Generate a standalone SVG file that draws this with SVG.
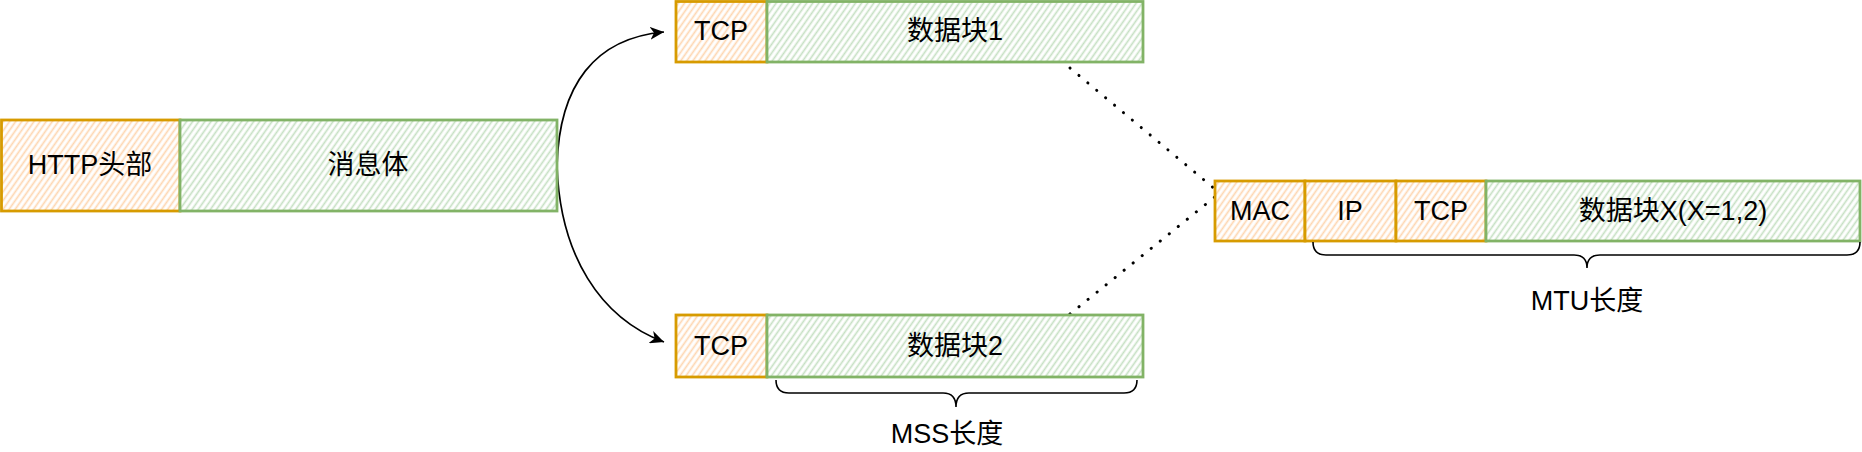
<svg xmlns="http://www.w3.org/2000/svg" width="1862" height="452" viewBox="0 0 1862 452">
<style>
text{font-family:"Liberation Sans","Noto Sans CJK SC",sans-serif;font-size:27px;fill:#000;text-anchor:middle;dominant-baseline:central}
.org{fill:url(#hatchO);stroke:#d79b00;stroke-width:2.8}
.grn{fill:url(#hatchG);stroke:#82b366;stroke-width:2.8}
.conn{fill:none;stroke:#000;stroke-width:1.7}
.dot{fill:none;stroke:#000;stroke-width:3;stroke-linecap:round;stroke-dasharray:0.1 11.5}
.brace{fill:none;stroke:#000;stroke-width:1.6}
</style>
<defs>
<pattern id="hatchO" patternUnits="userSpaceOnUse" width="5" height="5" patternTransform="rotate(35)">
<rect width="5" height="5" fill="#fff"/>
<line x1="2.5" y1="0" x2="2.5" y2="5" stroke="#fed6b0" stroke-width="1.7"/>
</pattern>
<pattern id="hatchG" patternUnits="userSpaceOnUse" width="5" height="5" patternTransform="rotate(35)">
<rect width="5" height="5" fill="#fff"/>
<line x1="2.5" y1="0" x2="2.5" y2="5" stroke="#c6e0c3" stroke-width="1.7"/>
</pattern>
<marker id="arr" markerWidth="15" markerHeight="13" refX="14" refY="6.5" orient="auto" markerUnits="userSpaceOnUse">
<path d="M0,0 L14,6.5 L0,13 L4,6.5 Z" fill="#000"/>
</marker>
</defs>

<g id="connectors">
<path class="conn" d="M557,166 C559,85 595,38 664,32" marker-end="url(#arr)"/>
<path class="conn" d="M557,166 C560,255 600,318 664,342" marker-end="url(#arr)"/>
<path class="dot" d="M1070,68 L1216,190"/>
<path class="dot" d="M1070,314 L1216,196"/>
</g>

<g id="http-header"><rect class="org" x="1.5" y="120" width="178.5" height="91"/><text x="90" y="165">HTTP头部</text></g>
<g id="message-body"><rect class="grn" x="180" y="120" width="377" height="91"/><text x="368" y="165">消息体</text></g>

<g id="tcp1"><rect class="org" x="676" y="1.5" width="91" height="60.5"/><text x="721" y="31">TCP</text></g>
<g id="block1"><rect class="grn" x="767" y="1.5" width="376" height="60.5"/><text x="955" y="31">数据块1</text></g>

<g id="tcp2"><rect class="org" x="676" y="315" width="91" height="62"/><text x="721" y="346">TCP</text></g>
<g id="block2"><rect class="grn" x="767" y="315" width="376" height="62"/><text x="955" y="346">数据块2</text></g>

<g id="mss-brace"><path class="brace" d="M776,380 Q776,393 789,393 L943,393 Q956,393 956,407 Q956,393 969,393 L1124,393 Q1137,393 1137,380"/><text x="947" y="434">MSS长度</text></g>

<g id="mac"><rect class="org" x="1215" y="181" width="90" height="60"/><text x="1260" y="211">MAC</text></g>
<g id="ip"><rect class="org" x="1305" y="181" width="91" height="60"/><text x="1350" y="211">IP</text></g>
<g id="tcpx"><rect class="org" x="1396" y="181" width="90" height="60"/><text x="1441" y="211">TCP</text></g>
<g id="blockx"><rect class="grn" x="1486" y="181" width="374" height="60"/><text x="1673" y="211">数据块X(X=1,2)</text></g>

<g id="mtu-brace"><path class="brace" d="M1313,242 Q1313,255 1326,255 L1574,255 Q1587,255 1587,268 Q1587,255 1600,255 L1847,255 Q1860,255 1860,242"/><text x="1587" y="301">MTU长度</text></g>
</svg>
